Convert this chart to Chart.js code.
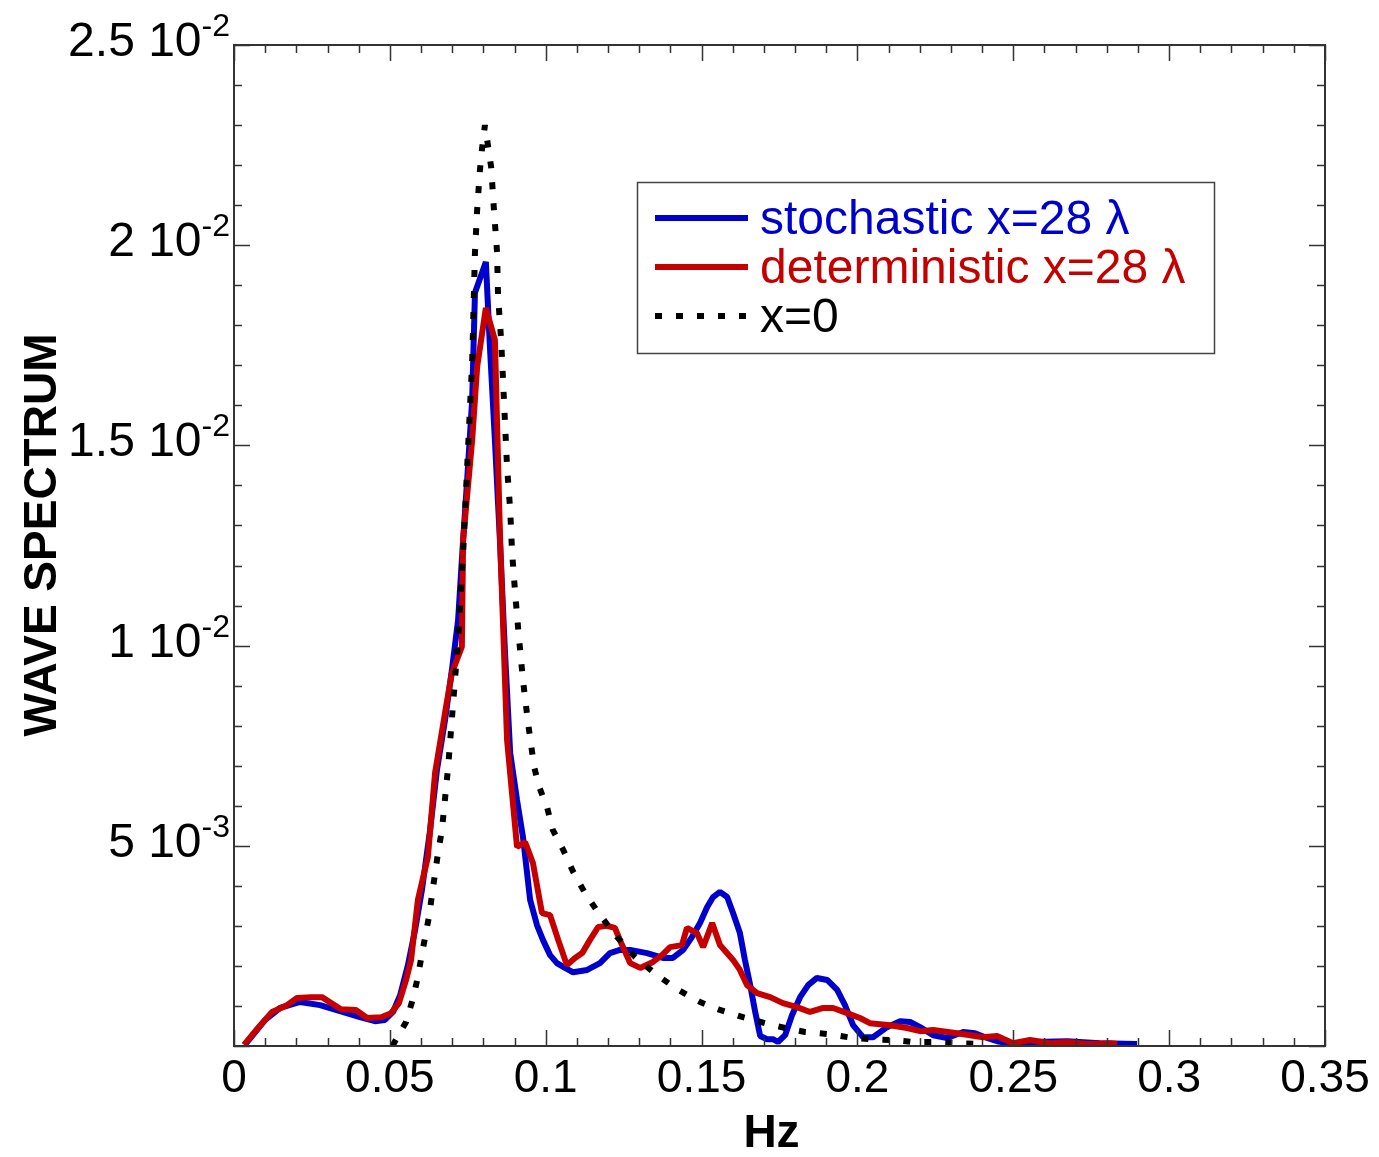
<!DOCTYPE html>
<html>
<head>
<meta charset="utf-8">
<script src="https://cdn.jsdelivr.net/npm/chart.js@4.4.1/dist/chart.umd.min.js"></script>
<style>
  html, body { margin: 0; padding: 0; background: #fff; }
  #wrap { width: 1379px; height: 1157px; }
</style>
</head>
<body>
<div id="wrap"><canvas id="spectrumChart" width="1379" height="1157"></canvas></div>
<script>
// wave spectrum

const stochHz = [0.0035, 0.0100, 0.0148, 0.0212, 0.0276, 0.0340, 0.0404, 0.0452, 0.0484, 0.0510,
  0.0533, 0.0558, 0.0581, 0.0603, 0.0629, 0.0651, 0.0677, 0.0699, 0.0719, 0.0735,
  0.0748, 0.0764, 0.0773, 0.0808, 0.0821, 0.0837, 0.0853, 0.0869, 0.0886, 0.0908,
  0.0927, 0.0950, 0.0972, 0.0991, 0.1014, 0.1036, 0.1062, 0.1088, 0.1133, 0.1174,
  0.1206, 0.1238, 0.1271, 0.1325, 0.1376, 0.1408, 0.1441, 0.1469, 0.1495, 0.1518,
  0.1537, 0.1559, 0.1582, 0.1601, 0.1623, 0.1639, 0.1656, 0.1672, 0.1688, 0.1710,
  0.1729, 0.1745, 0.1768, 0.1790, 0.1816, 0.1842, 0.1870, 0.1903, 0.1935, 0.1960,
  0.1986, 0.2018, 0.2050, 0.2095, 0.2137, 0.2169, 0.2201, 0.2243, 0.2288, 0.2339,
  0.2377, 0.2416, 0.2448, 0.2499, 0.2563, 0.2673, 0.2778, 0.2897];
const stochVal = [0.00003, 0.00065, 0.00095, 0.00110, 0.00102, 0.00087, 0.00072, 0.00062, 0.00065, 0.00085,
  0.00127, 0.00202, 0.00290, 0.00390, 0.00539, 0.00689, 0.00814, 0.00939, 0.01064, 0.01264,
  0.01414, 0.01613, 0.01881, 0.01958, 0.01746, 0.01513, 0.01264, 0.00989, 0.00732, 0.00614,
  0.00522, 0.00365, 0.00302, 0.00265, 0.00227, 0.00207, 0.00195, 0.00184, 0.00190, 0.00207,
  0.00232, 0.00240, 0.00240, 0.00232, 0.00220, 0.00220, 0.00240, 0.00272, 0.00307, 0.00347,
  0.00372, 0.00385, 0.00372, 0.00332, 0.00282, 0.00215, 0.00152, 0.00085, 0.00025, 0.00017,
  0.00017, 0.00010, 0.00027, 0.00077, 0.00122, 0.00152, 0.00170, 0.00165, 0.00140, 0.00102,
  0.00052, 0.00022, 0.00022, 0.00047, 0.00062, 0.00060, 0.00047, 0.00027, 0.00020, 0.00035,
  0.00032, 0.00020, 0.00012, 0.00005, 0.00010, 0.00012, 0.00007, 0.00005];

const detHz = [0.0032, 0.0077, 0.0122, 0.0170, 0.0202, 0.0247, 0.0282, 0.0343, 0.0391, 0.0427,
  0.0472, 0.0504, 0.0529, 0.0552, 0.0568, 0.0590, 0.0622, 0.0645, 0.0677, 0.0699,
  0.0731, 0.0735, 0.0764, 0.0780, 0.0808, 0.0837, 0.0853, 0.0876, 0.0908, 0.0934,
  0.0959, 0.0988, 0.1014, 0.1040, 0.1068, 0.1094, 0.1117, 0.1142, 0.1168, 0.1197,
  0.1222, 0.1245, 0.1271, 0.1303, 0.1344, 0.1373, 0.1399, 0.1437, 0.1453, 0.1485,
  0.1505, 0.1534, 0.1559, 0.1601, 0.1623, 0.1646, 0.1678, 0.1720, 0.1761, 0.1806,
  0.1848, 0.1890, 0.1922, 0.1967, 0.2008, 0.2040, 0.2105, 0.2159, 0.2201, 0.2243,
  0.2320, 0.2403, 0.2448, 0.2499, 0.2554, 0.2618, 0.2673, 0.2737, 0.2810, 0.2833];
const detVal = [0.00003, 0.00045, 0.00085, 0.00102, 0.00120, 0.00122, 0.00122, 0.00092, 0.00090, 0.00070,
  0.00072, 0.00082, 0.00107, 0.00165, 0.00215, 0.00365, 0.00472, 0.00682, 0.00832, 0.00932,
  0.00997, 0.01264, 0.01513, 0.01696, 0.01843, 0.01763, 0.01281, 0.00764, 0.00497, 0.00509,
  0.00457, 0.00332, 0.00327, 0.00265, 0.00202, 0.00220, 0.00232, 0.00265, 0.00297, 0.00300,
  0.00295, 0.00252, 0.00207, 0.00195, 0.00210, 0.00227, 0.00247, 0.00252, 0.00295, 0.00282,
  0.00247, 0.00307, 0.00252, 0.00215, 0.00190, 0.00152, 0.00132, 0.00122, 0.00107, 0.00097,
  0.00085, 0.00095, 0.00095, 0.00082, 0.00070, 0.00057, 0.00052, 0.00045, 0.00037, 0.00040,
  0.00032, 0.00022, 0.00025, 0.00007, 0.00015, 0.00007, 0.00010, 0.00005, 0.00007, 0.00005];

const x0Hz = [0.0510, 0.0513, 0.0552, 0.0571, 0.0587, 0.0600, 0.0613, 0.0626, 0.0635, 0.0655,
  0.0667, 0.0687, 0.0703, 0.0719, 0.0735, 0.0751, 0.0764, 0.0773, 0.0780, 0.0789,
  0.0796, 0.0805, 0.0815, 0.0825, 0.0834, 0.0844, 0.0847, 0.0857, 0.0863, 0.0876,
  0.0886, 0.0892, 0.0902, 0.0914, 0.0927, 0.0943, 0.0963, 0.0979, 0.1004, 0.1023,
  0.1056, 0.1088, 0.1126, 0.1174, 0.1229, 0.1287, 0.1357, 0.1425, 0.1495, 0.1559,
  0.1633, 0.1704, 0.1768, 0.1832, 0.1903, 0.1970, 0.2040, 0.2111, 0.2178, 0.2249,
  0.2320, 0.2400];
const x0Val = [0.00000, 0.00007, 0.00060, 0.00110, 0.00162, 0.00217, 0.00272, 0.00325, 0.00377, 0.00485,
  0.00539, 0.00697, 0.00857, 0.01014, 0.01231, 0.01496, 0.01708, 0.01981, 0.02088, 0.02188,
  0.02243, 0.02300, 0.02248, 0.02195, 0.02088, 0.01981, 0.01876, 0.01763, 0.01663, 0.01446,
  0.01339, 0.01234, 0.01131, 0.01021, 0.00914, 0.00809, 0.00697, 0.00647, 0.00597, 0.00539,
  0.00490, 0.00435, 0.00382, 0.00327, 0.00272, 0.00222, 0.00177, 0.00140, 0.00110, 0.00090,
  0.00072, 0.00057, 0.00045, 0.00035, 0.00030, 0.00022, 0.00017, 0.00015, 0.00010, 0.00010,
  0.00007, 0.00005];

const xTicks = [0, 0.05, 0.1, 0.15, 0.2, 0.25, 0.3, 0.35];
const xTickLabels = ['0', '0.05', '0.1', '0.15', '0.2', '0.25', '0.3', '0.35'];
const yTicks = [0.005, 0.01, 0.015, 0.02, 0.025];
const yTickMantissa = ['5', '1', '1.5', '2', '2.5'];
const yTickExp = ['-3', '-2', '-2', '-2', '-2'];

const legendLabels = ['stochastic x=28 \u03bb', 'deterministic x=28 \u03bb', 'x=0'];

const BLUE = '#0000cc';
const RED = '#c40000';
const FONT = '"Liberation Sans", Arial, sans-serif';

function pts(xs, ys) {
  return xs.map((x, i) => ({ x: x, y: ys[i] }));
}

// frame, inward ticks, tick labels, axis titles and legend box
const decorPlugin = {
  id: 'decor',
  afterDraw(chart) {
    const ctx = chart.ctx;
    const a = chart.chartArea;
    const xs = chart.scales.x;
    const ys = chart.scales.y;
    ctx.save();

    ctx.strokeStyle = '#333';
    ctx.lineWidth = 2;
    ctx.strokeRect(a.left, a.top, a.right - a.left, a.bottom - a.top);

    ctx.lineWidth = 1.5;
    ctx.beginPath();
    for (let i = 0; i <= 35; i++) {
      const px = Math.round(xs.getPixelForValue(i / 100)) + 0.5;
      const len = i % 5 === 0 ? 16 : 8;
      ctx.moveTo(px, a.bottom); ctx.lineTo(px, a.bottom - len);
      ctx.moveTo(px, a.top); ctx.lineTo(px, a.top + len);
    }
    for (let i = 0; i <= 25; i++) {
      const py = Math.round(ys.getPixelForValue(i / 1000)) + 0.5;
      const len = i % 5 === 0 ? 16 : 8;
      ctx.moveTo(a.left, py); ctx.lineTo(a.left + len, py);
      ctx.moveTo(a.right, py); ctx.lineTo(a.right - len, py);
    }
    ctx.stroke();

    ctx.fillStyle = '#000';
    ctx.font = '46px ' + FONT;
    ctx.textAlign = 'center';
    ctx.textBaseline = 'alphabetic';
    xTicks.forEach((v, i) => {
      ctx.fillText(xTickLabels[i], xs.getPixelForValue(v), 1092);
    });

    ctx.textAlign = 'right';
    yTicks.forEach((v, i) => {
      const py = ys.getPixelForValue(v);
      ctx.font = '32px ' + FONT;
      const ew = ctx.measureText(yTickExp[i]).width;
      ctx.fillText(yTickExp[i], 230, py - 9);
      ctx.font = '48px ' + FONT;
      ctx.fillText(yTickMantissa[i] + ' 10', 230 - ew, py + 11);
    });

    ctx.font = 'bold 46px ' + FONT;
    ctx.textAlign = 'center';
    ctx.fillText('Hz', (a.left + a.right) / 2 - 8, 1147);
    ctx.save();
    ctx.translate(56, 535);
    ctx.rotate(-Math.PI / 2);
    ctx.fillText('WAVE SPECTRUM', 0, 0);
    ctx.restore();

    // legend
    ctx.fillStyle = '#fff';
    ctx.fillRect(637, 182, 578, 172);
    ctx.strokeStyle = '#444';
    ctx.lineWidth = 1.5;
    ctx.strokeRect(637.5, 182.5, 577, 171);
    const sets = chart.data.datasets;
    const order = [2, 1, 0];
    ctx.font = '48px ' + FONT;
    ctx.textAlign = 'left';
    order.forEach((di, row) => {
      const ds = sets[di];
      const y = 218 + row * 49;
      ctx.strokeStyle = ds.borderColor;
      ctx.lineWidth = ds.borderWidth;
      ctx.setLineDash(ds.borderDash || []);
      ctx.beginPath();
      ctx.moveTo(655, y); ctx.lineTo(748, y);
      ctx.stroke();
      ctx.setLineDash([]);
      ctx.fillStyle = ds.borderColor;
      ctx.fillText(legendLabels[row], 760, y + 16);
    });
    ctx.restore();
  }
};

const ctx = document.getElementById('spectrumChart');
new Chart(ctx, {
  type: 'line',
  data: {
    datasets: [{
      label: legendLabels[2],
      data: pts(x0Hz, x0Val),
      borderColor: '#000',
      borderWidth: 6,
      borderDash: [7, 14],
      borderJoinStyle: 'bevel',
      pointRadius: 0,
      tension: 0
    }, {
      label: legendLabels[1],
      data: pts(detHz, detVal),
      borderColor: RED,
      borderWidth: 6,
      borderJoinStyle: 'bevel',
      pointRadius: 0,
      tension: 0
    }, {
      label: legendLabels[0],
      data: pts(stochHz, stochVal),
      borderColor: BLUE,
      borderWidth: 6,
      borderJoinStyle: 'bevel',
      pointRadius: 0,
      tension: 0
    }]
  },
  options: {
    responsive: false,
    animation: false,
    layout: { padding: { top: 45, right: 54, left: 0, bottom: 0 } },
    plugins: {
      legend: { display: false },
      tooltip: { enabled: false }
    },
    scales: {
      x: {
        type: 'linear',
        min: 0,
        max: 0.35,
        grid: { display: false },
        border: { display: false },
        ticks: { display: false },
        afterFit(scale) { scale.height = 111; }
      },
      y: {
        type: 'linear',
        min: 0,
        max: 0.025,
        grid: { display: false },
        border: { display: false },
        ticks: { display: false },
        afterFit(scale) { scale.width = 234; }
      }
    }
  },
  plugins: [decorPlugin]
});
</script>
</body>
</html>
